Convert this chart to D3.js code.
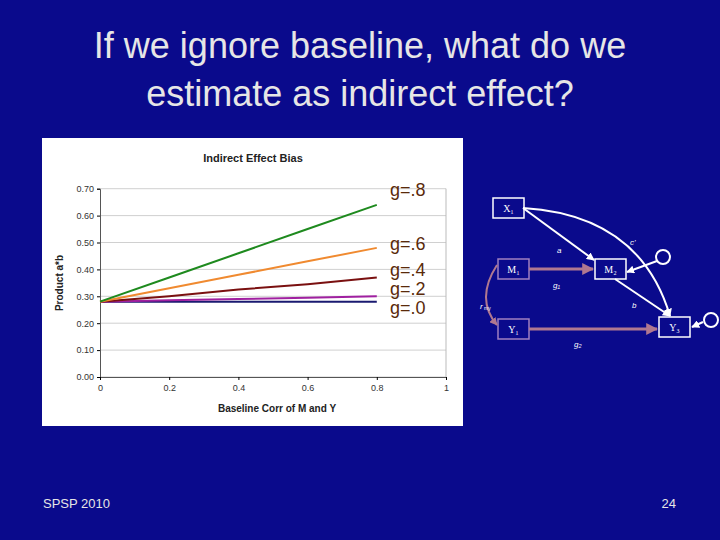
<!DOCTYPE html><html><head><meta charset="utf-8"><script src="https://cdn.jsdelivr.net/npm/d3@7"></script>
<style>body{margin:0;background:#0a0a8c}</style></head><body><svg id="s" width="720" height="540"></svg>
<script>
const xVals=[0,0.2,0.4,0.6,0.8];
const seriesNames=["g=.8","g=.6","g=.4","g=.2","g=.0"];
const seriesValues=[[0.28,0.37,0.46,0.55,0.64],[0.28,0.33,0.38,0.43,0.48],[0.28,0.30,0.325,0.345,0.37],[0.28,0.285,0.29,0.295,0.30],[0.28,0.28,0.28,0.28,0.28]];
const seriesColors=["#1e8a1e","#f08a30","#7a1010","#a020a0","#1a1a70"];
const labelY=[0.70,0.50,0.40,0.33,0.26];
const yTicks=[0,0.1,0.2,0.3,0.4,0.5,0.6,0.7];
const xTicks=[0,0.2,0.4,0.6,0.8,1];
const svg=d3.select("#s");
svg.append("rect").attr("width",720).attr("height",540).attr("fill","#0a0a8c");
svg.append("text").attr("x",360).attr("y",58).attr("text-anchor","middle").attr("fill","#e6e6e6").attr("font-family","Liberation Sans").attr("font-size",36).text("If we ignore baseline, what do we");
svg.append("text").attr("x",360).attr("y",106).attr("text-anchor","middle").attr("fill","#e6e6e6").attr("font-family","Liberation Sans").attr("font-size",36).text("estimate as indirect effect?");
svg.append("rect").attr("x",42).attr("y",138).attr("width",421).attr("height",288).attr("fill","#fff");
const x=d3.scaleLinear().domain([0,1]).range([100,446]);
const y=d3.scaleLinear().domain([0,0.7]).range([377,188.7]);
const g=svg.append("g").attr("font-family","Liberation Sans").attr("font-size",9);
yTicks.forEach(t=>g.append("line").attr("x1",100).attr("x2",446).attr("y1",y(t)).attr("y2",y(t)).attr("stroke","#bbb").attr("stroke-width",0.7));
g.append("line").attr("x1",446).attr("x2",446).attr("y1",y(0.7)).attr("y2",y(0)).attr("stroke","#bbb");
g.append("g").attr("transform","translate(100,0)").call(d3.axisLeft(y).tickValues(yTicks).tickFormat(d3.format(".2f")).tickSize(3)).call(a=>a.selectAll("text").attr("fill","#333").attr("font-size",9));
g.append("g").attr("transform","translate(0,377)").call(d3.axisBottom(x).tickValues(xTicks).tickFormat(d=>d).tickSize(3)).call(a=>a.selectAll("text").attr("fill","#333").attr("font-size",9).attr("dy","0.9em"));
g.selectAll(".domain").attr("stroke","#555");
svg.append("text").attr("x",253).attr("y",162).attr("text-anchor","middle").attr("font-family","Liberation Sans").attr("font-weight","bold").attr("font-size",11).attr("fill","#222").text("Indirect Effect Bias");
svg.append("text").attr("x",277).attr("y",412).attr("text-anchor","middle").attr("font-family","Liberation Sans").attr("font-weight","bold").attr("font-size",10).attr("fill","#222").text("Baseline Corr of M and Y");
svg.append("text").attr("transform","translate(63,283) rotate(-90)").attr("text-anchor","middle").attr("font-family","Liberation Sans").attr("font-weight","bold").attr("font-size",10).attr("fill","#222").text("Product a*b");
const line=d3.line().x((d,i)=>x(xVals[i])).y(d=>y(d));
seriesValues.slice().reverse().forEach((v,k)=>{const i=seriesValues.length-1-k;svg.append("path").attr("d",line(v)).attr("fill","none").attr("stroke",seriesColors[i]).attr("stroke-width",2);});
seriesNames.forEach((n,i)=>svg.append("text").attr("x",390).attr("y",y(labelY[i])+7).attr("font-family","Liberation Sans").attr("font-size",18).attr("fill","#5a2a0a").text(n));
// diagram
const d=svg.append("g").attr("font-family","Liberation Serif");
const defs=svg.append("defs");
[["w","#fff"],["p","#b07890"]].forEach(([id,c])=>defs.append("marker").attr("id",id).attr("viewBox","0 0 10 10").attr("refX",9).attr("refY",5).attr("markerWidth",4).attr("markerHeight",4).attr("orient","auto").append("path").attr("d","M0,0L10,5L0,10z").attr("fill",c));
const boxes={X1:[493,198,"#fff","X\u2081"],M1:[498,259,"#a080c0","M\u2081"],M2:[595,259,"#fff","M\u2082"],Y1:[498,319,"#a080c0","Y\u2081"],Y3:[659,317,"#fff","Y\u2083"]};
Object.values(boxes).forEach(([bx,by,c,t])=>{d.append("rect").attr("x",bx).attr("y",by).attr("width",31).attr("height",20).attr("fill","none").attr("stroke",c).attr("stroke-width",1.5);d.append("text").attr("x",bx+15.5).attr("y",by+14).attr("text-anchor","middle").attr("fill","#fff").attr("font-size",10).text(t);});
const ar=(p,c,m,w)=>d.append("path").attr("d",p).attr("fill","none").attr("stroke",c).attr("stroke-width",w||2).attr("marker-end","url(#"+m+")");
ar("M523,208L594,260","#fff","w");
ar("M523,208Q640,215 670,316","#fff","w");
ar("M615,279L670,316","#fff","w");
ar("M529,269L593,269","#b07890","p",3);
ar("M529,329L657,329","#b07890","p",3);
ar("M497,265Q475,299 497,325","#b07890","p",2);
ar("M657,261L627,272","#fff","w");
ar("M703,322L692,327","#fff","w");
d.append("circle").attr("cx",663).attr("cy",257).attr("r",7).attr("fill","none").attr("stroke","#fff").attr("stroke-width",2);
d.append("circle").attr("cx",711).attr("cy",320).attr("r",7).attr("fill","none").attr("stroke","#fff").attr("stroke-width",2);
const lab=(t,lx,ly)=>d.append("text").attr("x",lx).attr("y",ly).attr("fill","#fff").attr("font-size",8).attr("font-style","italic").attr("font-family","Liberation Sans").text(t);
lab("a",557,253);lab("c'",630,245);lab("g\u2081",553,288);lab("b",632,308);lab("g\u2082",574,347);lab("r",480,309);
d.append("text").attr("x",484).attr("y",310).attr("fill","#fff").attr("font-size",5).attr("font-family","Liberation Sans").text("my");
svg.append("text").attr("x",43).attr("y",508).attr("fill","#e6e6e6").attr("font-family","Liberation Sans").attr("font-size",13).text("SPSP 2010");
svg.append("text").attr("x",676).attr("y",508).attr("text-anchor","end").attr("fill","#e6e6e6").attr("font-family","Liberation Sans").attr("font-size",13).text("24");
</script></body></html>
